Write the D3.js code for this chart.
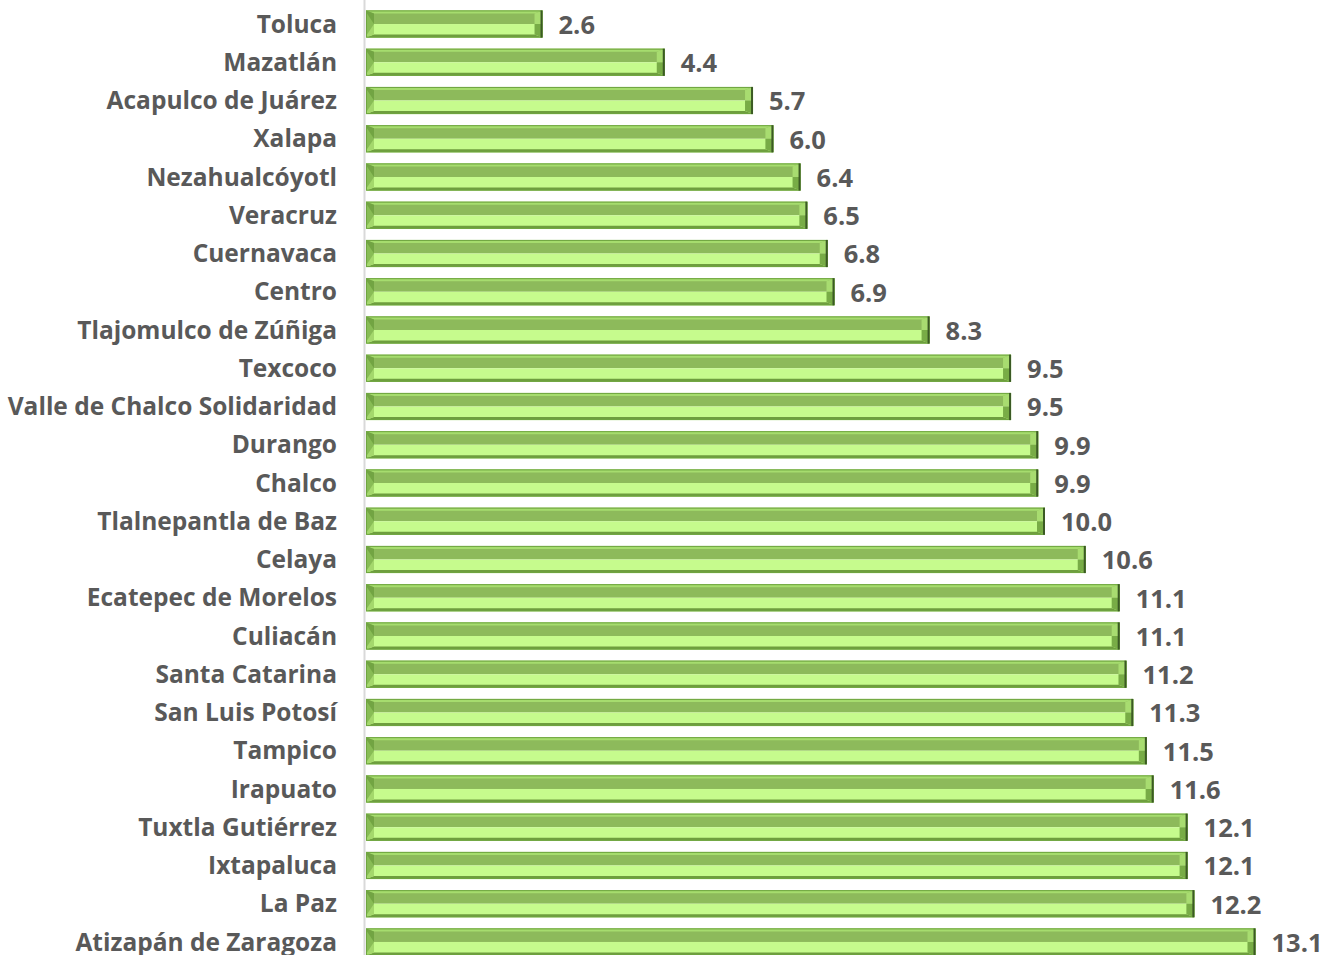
<!DOCTYPE html>
<html>
<head>
<meta charset="utf-8">
<script src="https://cdn.jsdelivr.net/npm/d3@7"></script>
<style>
  body { margin: 0; background: #fff; }
  svg { display: block; }
  text { font-family: "Open Sans", sans-serif; font-weight: bold; fill: #595959; }
</style>
</head>
<body>
<script>
// data
const cities = ['Toluca', 'Mazatlán', 'Acapulco de Juárez', 'Xalapa', 'Nezahualcóyotl', 'Veracruz',
  'Cuernavaca', 'Centro', 'Tlajomulco de Zúñiga', 'Texcoco', 'Valle de Chalco Solidaridad', 'Durango',
  'Chalco', 'Tlalnepantla de Baz', 'Celaya', 'Ecatepec de Morelos', 'Culiacán', 'Santa Catarina',
  'San Luis Potosí', 'Tampico', 'Irapuato', 'Tuxtla Gutiérrez', 'Ixtapaluca', 'La Paz', 'Atizapán de Zaragoza'];
const values = [2.6, 4.4, 5.7, 6.0, 6.4, 6.5, 6.8, 6.9, 8.3, 9.5, 9.5, 9.9, 9.9, 10.0, 10.6,
  11.1, 11.1, 11.2, 11.3, 11.5, 11.6, 12.1, 12.1, 12.2, 13.1];

const data = cities.map((c, i) => ({ key: c, value: values[i] }));

const W = 1337;
const H = 955;
const x0 = 366;

const svg = d3.select('body').append('svg')
  .attr('width', W)
  .attr('height', H);

const xscale = d3.scaleLinear().domain([0, 13.1]).range([x0, x0 + 13.1 * 67.9]);
const yscale = d3.scaleBand().domain(cities).range([4.9, 961.1])
  .paddingInner(0.29).paddingOuter(0.145);

// vertical axis line
svg.append('line')
  .attr('x1', x0 - 1.5).attr('x2', x0 - 1.5)
  .attr('y1', 0).attr('y2', H)
  .attr('stroke', '#d9d9d9').attr('stroke-width', 2);

// beveled bars
const bars = svg.selectAll('.bar').data(data).enter().append('g').attr('class', 'bar');

bars.each(function (d) {
  const g = d3.select(this);
  const l = xscale(0);
  const r = xscale(d.value);
  const t = yscale(d.key);
  const b = t + yscale.bandwidth();
  const m = (t + b) / 2;
  const bx = 8; // horizontal bevel
  const by = 3; // vertical bevel
  const poly = (pts, fill) => g.append('polygon')
    .attr('points', pts.map(p => p.join(',')).join(' '))
    .attr('fill', fill);
  // inner face, top and bottom halves
  g.append('rect').attr('x', l).attr('y', t).attr('width', r - l).attr('height', m - t).attr('fill', '#8dba5b');
  g.append('rect').attr('x', l).attr('y', m).attr('width', r - l).attr('height', b - m).attr('fill', '#c6fb8d');
  // top and bottom bevels
  poly([[l, t], [r, t], [r - bx, t + by], [l + bx, t + by]], '#a6dc6e');
  poly([[l, b], [r, b], [r - bx, b - by], [l + bx, b - by]], '#6e9e3e');
  // left bevel (chevron)
  poly([[l, t], [l + bx, t + by], [l + bx, m], [l, m]], '#72a443');
  poly([[l, m], [l + bx, m], [l + bx, b - by], [l, b]], '#a4d86c');
  poly([[l + 1, t + 3], [l + bx, m], [l + 1, b - 3]], '#88bc55');
  // right bevel
  poly([[r, t], [r - bx, t + by], [r - bx, m], [r, m]], '#a8dc70');
  poly([[r, m], [r - bx, m], [r - bx, b - by], [r, b]], '#78ac46');
  // outline and dark right edge
  g.append('rect').attr('x', l + 0.5).attr('y', t + 0.5).attr('width', r - l - 1).attr('height', b - t - 1)
    .attr('fill', 'none').attr('stroke', '#6fa540').attr('stroke-width', 1);
  g.append('line').attr('x1', r - 1).attr('x2', r - 1).attr('y1', t).attr('y2', b)
    .attr('stroke', '#3b5a24').attr('stroke-width', 2);
});

// category labels
svg.selectAll('.cat').data(data).enter().append('text')
  .attr('class', 'cat')
  .attr('x', 337)
  .attr('y', d => yscale(d.key) + yscale.bandwidth() / 2)
  .attr('dy', '0.35em')
  .attr('text-anchor', 'end')
  .style('font-size', '24.5px')
  .text(d => d.key);

// value labels
svg.selectAll('.val').data(data).enter().append('text')
  .attr('class', 'val')
  .attr('x', d => xscale(d.value) + 16)
  .attr('y', d => yscale(d.key) + yscale.bandwidth() / 2 + 1)
  .attr('dy', '0.35em')
  .style('font-size', '25.5px')
  .text(d => d.value.toFixed(1));
</script>
</body>
</html>
